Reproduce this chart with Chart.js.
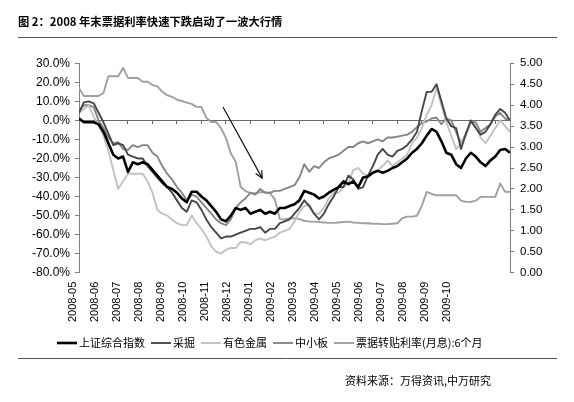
<!DOCTYPE html>
<html><head><meta charset="utf-8">
<script src="https://cdn.jsdelivr.net/npm/chart.js@4.4.1/dist/chart.umd.min.js"></script>
<style>html,body{margin:0;padding:0;background:#fff;}canvas{display:block;}</style>
</head><body>
<canvas id="c" width="574" height="402"></canvas>
<script>
const TITLE = '图 2：2008 年末票据利率快速下跌启动了一波大行情';
const SOURCE = '资料来源：万得资讯,中万研究';
const MONTH_LABELS = ['2008-05','2008-06','2008-07','2008-08','2008-09','2008-10','2008-11','2008-12',
  '2009-01','2009-02','2009-03','2009-04','2009-05','2009-06','2009-07','2009-08','2009-09','2009-10'];
const SERIES_NAMES = ['上证综合指数','采掘','有色金属','中小板','票据转贴利率(月息):6个月'];

// left axis (%), roughly weekly samples
const shanghai = [1,-1,-1,-1,-2,-6,-12,-18,-20,-19,
 -27,-22,-23,-22,-23,-26,-29,-32,-35,-36,
 -38,-41,-43,-37.5,-37.5,-40,-42,-45,-48,-52,
 -53,-50,-46,-47,-46,-49,-48,-47,-49,-48,
 -49,-46,-46,-45,-44,-42,-37,-38,-39,-41,
 -40,-38,-36.5,-35,-32,-33.5,-32,-35,-30,-29.5,
 -27.5,-26.5,-27.5,-26.5,-25,-24,-22,-20,-17,-15,
 -12,-8,-4.5,-6,-11,-17,-18,-23,-25,-20,
 -17,-19,-22,-24,-21,-19,-15.5,-15,-17];
const mining = [4,9.5,10,9,4,-1,-7,-13,-12,-13,
 -18,-19,-20,-20,-24,-27,-30,-33,-35,-38,
 -42,-46,-48,-42,-43,-47,-52,-56,-59,-62,
 -61,-61,-60,-59,-58,-57,-57,-56,-59,-57,
 -57,-54,-53,-52,-49,-46,-42,-45,-49,-52,
 -49,-44,-40,-35,-35,-29,-31,-36,-35,-29,
 -24,-18,-15,-18,-19,-16,-15,-13,-10,-6,
 5,15,15,19,10,1,-3,-4,-15,-7,
 0,-4,-7.5,-6,-2,3,6,4,0];
const nonferrous = [4,6,8,2,-3,-8,-16,-26,-36,-32,
 -28,-28,-28,-28,-32,-38,-47,-49,-50,-52,
 -54,-55,-55,-50,-54,-57,-61,-66,-69,-70,
 -68,-67,-67,-64,-64,-65,-63,-62,-63,-62,
 -61,-59,-58,-57,-53,-48,-45,-44,-49,-49,
 -46,-41,-38,-38,-35,-33,-26,-25,-28,-29,
 -27,-26,-24,-21,-24,-22,-20,-18,-12,-9,
 -4,3,8,17,8,-1,-8,-15,-12,-8,
 -1,-3,-9,-12,-8,-4,0,-3,-6];
const sme = [5,8,8,7,0,-4,-9,-12,-11.5,-15,
 -15.5,-13,-14,-13,-13,-17,-19,-24,-28,-31,
 -35,-38,-42,-39,-40,-43,-46,-49,-52,-54,
 -55,-52,-46,-43,-41,-38,-39,-36,-38,-38,
 -37,-37,-36,-35,-34,-30,-23,-27,-24,-25,
 -22,-20,-19,-18,-16,-14,-14,-12,-11,-12,
 -11,-10,-11,-9,-9,-8.5,-8,-7.5,-6,-3.5,
 -1.5,-0.5,1,1.5,-2,1,0,-6,-12,-7,
 -1,-1,-6,-4,-2,2,4,1,0];
// right axis
const billRate = [4.41,4.22,4.22,4.22,4.22,4.29,4.69,4.69,4.69,4.89,
 4.65,4.65,4.65,4.56,4.56,4.48,4.45,4.32,4.24,4.20,
 4.13,4.10,4.06,4.03,3.96,3.96,3.70,3.60,3.60,3.45,
 3.22,2.85,2.65,2.05,1.95,1.90,1.90,1.92,1.92,1.90,
 1.75,1.28,1.27,1.30,1.30,1.28,1.24,1.22,1.22,1.21,
 1.20,1.19,1.19,1.20,1.21,1.22,1.20,1.19,1.18,1.18,
 1.17,1.17,1.16,1.16,1.17,1.18,1.30,1.34,1.34,1.36,
 1.60,1.93,1.88,1.85,1.85,1.85,1.85,1.85,1.72,1.69,
 1.69,1.72,1.81,1.81,1.81,1.81,2.13,1.93,1.93];

const N = shanghai.length;
const LABEL_OFFSET = -1.3, LABEL_STEP = 4.5;   // label slots in sample units
const MONTH_TICK_STEP = 5;
const ARROW = {from:{x:29.4, y:7.0}, to:{x:37.4, y:-30.3}};

const toPts = arr => arr.map((v,i)=>({x:i, y:v}));
const COLORS = ['#000000','#474747','#c2c2c2','#858585','#a0a0a0'];
const WIDTHS = [2.6,1.9,1.9,1.9,1.9];
const seriesData = [shanghai, mining, nonferrous, sme, billRate];

Chart.defaults.font.family = '"Liberation Sans", Arial, sans-serif';
Chart.defaults.color = '#000';

const decor = {
  id:'decor',
  afterDraw(chart){
    const ctx = chart.ctx;
    ctx.save();
    // title
    ctx.fillStyle = '#000';
    ctx.font = 'bold 11.3px "Noto Sans CJK SC"';
    ctx.textBaseline = 'middle'; ctx.textAlign = 'left';
    ctx.fillText(TITLE, 18, 22);
    // rules
    ctx.strokeStyle = '#555'; ctx.lineWidth = 1;
    ctx.beginPath(); ctx.moveTo(18, 37.5); ctx.lineTo(557, 37.5); ctx.stroke();
    ctx.beginPath(); ctx.moveTo(18, 358.5); ctx.lineTo(557, 358.5); ctx.stroke();
    // legend
    ctx.font = '11px "Noto Sans CJK SC"';
    let lx = 57; const ly = 343;
    chart.data.datasets.forEach(ds=>{
      ctx.strokeStyle = ds.borderColor; ctx.lineWidth = ds.borderWidth;
      ctx.beginPath(); ctx.moveTo(lx, ly); ctx.lineTo(lx+20, ly); ctx.stroke();
      lx += 22;
      ctx.fillStyle = '#000';
      ctx.fillText(ds.label, lx, ly);
      lx += ctx.measureText(ds.label).width + 6;
    });
    // source
    ctx.font = '11px "Noto Sans CJK SC"';
    ctx.fillText(SOURCE, 345, 381);
    // arrow
    const xs = chart.scales.x, ys = chart.scales.y;
    const x1 = xs.getPixelForValue(ARROW.from.x), y1 = ys.getPixelForValue(ARROW.from.y);
    const x2 = xs.getPixelForValue(ARROW.to.x), y2 = ys.getPixelForValue(ARROW.to.y);
    ctx.strokeStyle = '#111'; ctx.lineWidth = 1.2;
    ctx.beginPath(); ctx.moveTo(x1,y1); ctx.lineTo(x2,y2); ctx.stroke();
    const a = Math.atan2(y2-y1, x2-x1), L = 8, w = 0.45;
    ctx.beginPath();
    ctx.moveTo(x2 - L*Math.cos(a-w), y2 - L*Math.sin(a-w));
    ctx.lineTo(x2, y2);
    ctx.lineTo(x2 - L*Math.cos(a+w), y2 - L*Math.sin(a+w));
    ctx.stroke();
    ctx.restore();
  }
};

new Chart(document.getElementById('c'), {
  type:'line',
  data:{
    datasets: seriesData.map((arr,i)=>({
      label: SERIES_NAMES[i], data: toPts(arr),
      borderColor: COLORS[i], backgroundColor: COLORS[i], borderWidth: WIDTHS[i],
      xAxisID:'x', yAxisID: i===4 ? 'y1' : 'y',
      pointRadius:0, tension:0, fill:false, borderJoinStyle:'round'
    }))
  },
  options:{
    responsive:false, animation:false,
    layout:{padding:{top:63.3, bottom:69.3, left:0, right:0}},
    plugins:{legend:{display:false}, tooltip:{enabled:false}, title:{display:false}},
    scales:{
      x:{type:'linear', axis:'x', position:'bottom', min:0, max:N-1,
         grid:{display:false, drawTicks:false}, border:{display:false},
         ticks:{autoSkip:false, minRotation:90, maxRotation:90, padding:9,
                font:{size:11}, color:'#000', callback:(v,i)=>MONTH_LABELS[i]},
         afterBuildTicks: s => { s.ticks = MONTH_LABELS.map((_,i)=>({value: LABEL_OFFSET + i*LABEL_STEP})); },
         afterFit: s => { s.height = 60; }
      },
      x0:{type:'linear', axis:'x', position:{y:0}, min:0, max:N-1,
         grid:{drawOnChartArea:false, drawTicks:true, tickLength:3, color:'#6a6a6a'},
         border:{display:true, color:'#6a6a6a', width:1},
         ticks:{display:false},
         afterBuildTicks: s => { const t=[]; for(let v=0; v<N-1; v+=MONTH_TICK_STEP) t.push({value:v}); s.ticks=t; }
      },
      y:{type:'linear', position:'left', min:-80, max:30,
         ticks:{stepSize:10, padding:5, font:{size:12}, color:'#000',
                callback:v=>(Math.abs(v)<1e-9?0:v).toFixed(1)+'%'},
         grid:{drawOnChartArea:false, drawTicks:true, tickLength:4, color:'#808080'},
         border:{display:true, color:'#808080', width:1},
         afterFit: s => { s.width = 79; }
      },
      y1:{type:'linear', position:'right', min:0, max:5,
         ticks:{stepSize:0.5, padding:6, font:{size:11.5}, color:'#000',
                callback:v=>v.toFixed(2)},
         grid:{drawOnChartArea:false, drawTicks:true, tickLength:4, color:'#808080'},
         border:{display:true, color:'#808080', width:1},
         afterFit: s => { s.width = 64; }
      }
    }
  },
  plugins:[decor]
});
</script>
</body></html>
